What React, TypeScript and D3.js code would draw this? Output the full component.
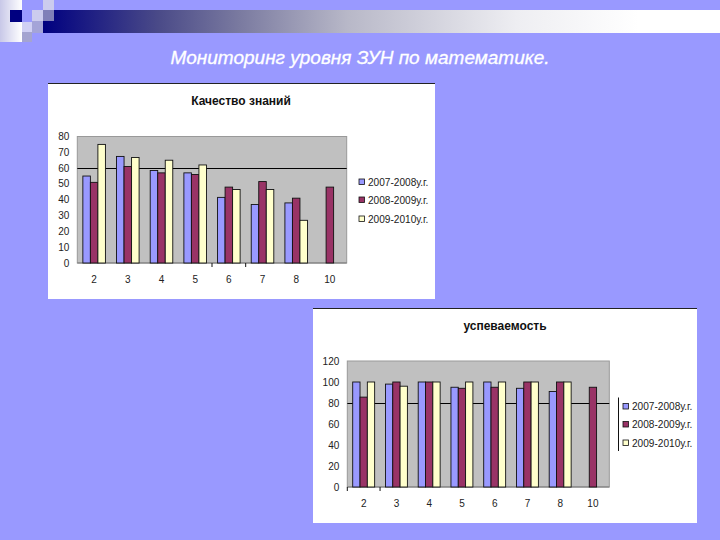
import React from "react";
import * as d3 from "d3";

const categories = ["2", "3", "4", "5", "6", "7", "8", "10"];
const seriesNames = ["2007-2008у.г.", "2008-2009у.г.", "2009-2010у.г."];
const seriesColors = ["#9999FF", "#993366", "#FFFFCC"];

const knowledge2007: (number | null)[] = [55, 67.4, 58.5, 57, 41.5, 37, 38, null];
const knowledge2008: (number | null)[] = [51, 61, 57, 56, 48, 51.5, 41, 48];
const knowledge2009: (number | null)[] = [75, 66.7, 65, 62, 46.5, 46.5, 27, null];

const progress2007: (number | null)[] = [100, 98, 100, 95, 100, 94, 91, null];
const progress2008: (number | null)[] = [85.6, 100, 100, 94, 95, 100, 100, 95];
const progress2009: (number | null)[] = [100, 96, 100, 100, 100, 100, 100, null];

const knowledgeTicks = [0, 10, 20, 30, 40, 50, 60, 70, 80];
const progressTicks = [0, 20, 40, 60, 80, 100, 120];

const FONT = "Liberation Sans, Arial, sans-serif";

type ChartProps = {
  title: string;
  panel: [number, number, number, number];
  plot: [number, number, number, number];
  yMax: number;
  ticks: number[];
  grid: number;
  series: (number | null)[][];
  titleX: number;
  titleY: number;
  legendX: number;
  legendYs: number[];
  tickFont: number;
  axisTicks: string[];
  legendRule?: boolean;
};

function BarChart(p: ChartProps) {
  const [px, py, pw, ph] = p.panel;
  const [x0, y0, x1, y1] = p.plot;
  const x = d3.scaleBand<string>().domain(categories).range([x0, x1]).paddingInner(0).paddingOuter(0);
  const inner = d3.scaleBand<number>().domain([0, 1, 2]).range([x.bandwidth() * 0.165, x.bandwidth() * 0.835]);
  const y = d3.scaleLinear().domain([0, p.yMax]).range([y1, y0]);
  const gridY = Math.floor(y(p.grid)) + 0.5;
  return (
    <g>
      <rect x={px} y={py} width={pw} height={ph} fill="#fff" />
      <line x1={px} x2={px + pw} y1={py + 0.5} y2={py + 0.5} stroke="#222" strokeWidth={1} />
      <text x={p.titleX} y={p.titleY} fontFamily={FONT} fontSize={12} fontWeight={700} textAnchor="middle" fill="#111">{p.title}</text>
      <rect x={x0} y={y0} width={x1 - x0} height={y1 - y0} fill="#C0C0C0" stroke="#999" strokeWidth={1} />
      <line x1={x0} x2={x1} y1={gridY} y2={gridY} stroke="#000" strokeWidth={1} />
      <line x1={x0} x2={x1} y1={y1} y2={y1} stroke="#777" strokeWidth={1} />
      {p.axisTicks.map((c) => (
        <line key={c} x1={x(c)!} x2={x(c)!} y1={y1} y2={y1 + 4} stroke="#111" strokeWidth={1} />
      ))}
      {p.ticks.map((t) => (
        <text key={t} x={x0 - 8} y={y(t) + 3.5} fontFamily={FONT} fontSize={p.tickFont} textAnchor="end" fill="#222">{t}</text>
      ))}
      {categories.map((c) => (
        <text key={c} x={x(c)! + x.bandwidth() / 2} y={y1 + 20} fontFamily={FONT} fontSize={p.tickFont} textAnchor="middle" fill="#222">{c}</text>
      ))}
      {p.series.map((vals, s) =>
        vals.map((v, i) =>
          v == null ? null : (
            <rect
              key={`${s}-${i}`}
              x={x(categories[i])! + inner(s)!}
              y={y(v)}
              width={inner.bandwidth()}
              height={y1 - y(v)}
              fill={seriesColors[s]}
              stroke="#111"
              strokeWidth={0.9}
            />
          )
        )
      )}
      {p.legendRule && <line x1={p.legendX - 4.5} x2={p.legendX - 4.5} y1={p.legendYs[0] - 9} y2={p.legendYs[2] + 8} stroke="#111" />}
      {seriesNames.map((n, s) => (
        <g key={n}>
          <rect x={p.legendX} y={p.legendYs[s] - 3} width={5.5} height={5.5} fill={seriesColors[s]} stroke="#111" strokeWidth={0.8} />
          <text x={p.legendX + 9} y={p.legendYs[s] + 3.5} fontFamily={FONT} fontSize={10.1} fill="#222">{n}</text>
        </g>
      ))}
    </g>
  );
}

export default function App() {
  return (
    <svg width={720} height={540} style={{ position: "fixed", left: 0, top: 0 }}>
      <defs>
        <linearGradient id="hdr" x1="0" x2="1" y1="0" y2="0">
          <stop offset="0" stopColor="#000080" />
          <stop offset="0.17" stopColor="#4A4A88" />
          <stop offset="0.29" stopColor="#7A7AA0" />
          <stop offset="0.45" stopColor="#B8B8C8" />
          <stop offset="0.7" stopColor="#EEEEF2" />
          <stop offset="0.88" stopColor="#FFFFFF" />
          <stop offset="1" stopColor="#FFFFFF" />
        </linearGradient>
        <linearGradient id="sq" x1="0" x2="1" y1="0" y2="0">
          <stop offset="0" stopColor="#C8C8E8" />
          <stop offset="1" stopColor="#FFFFFF" />
        </linearGradient>
      </defs>
      <rect width={720} height={540} fill="#9999FF" />
      <rect x={43} y={10} width={677} height={23} fill="url(#hdr)" />
      <rect x={0} y={0} width={22} height={42} fill="url(#sq)" />
      <rect x={10} y={10} width={12} height={12} fill="#000080" />
      <rect x={32} y={10} width={11} height={11} fill="#CCCCEE" />
      <rect x={43} y={0} width={11} height={10} fill="#CCCCEE" />
      <rect x={43} y={10} width={11} height={11} fill="#8080B8" />
      <rect x={22} y={22} width={10} height={10} fill="#D0D0F4" />
      <rect x={32} y={21} width={11} height={12} fill="#A4A4D8" />
      <rect x={22} y={32} width={10} height={10} fill="#A4A4D0" />
      <text x={360} y={63.5} fontFamily={FONT} fontSize={19} fontStyle="italic" textAnchor="middle" fill="#fff" stroke="#fff" strokeWidth={0.3}>Мониторинг уровня ЗУН по математике.</text>
      <BarChart
        title="Качество знаний"
        panel={[48, 83, 387, 216]}
        plot={[77.3, 136.5, 346.7, 263]}
        yMax={80}
        ticks={knowledgeTicks}
        grid={60}
        series={[knowledge2007, knowledge2008, knowledge2009]}
        titleX={241}
        titleY={105}
        legendX={359}
        legendYs={[182, 200, 219]}
        tickFont={10}
        axisTicks={["6", "7"]}
      />
      <BarChart
        title="успеваемость"
        panel={[313, 308, 384, 215]}
        plot={[347.3, 361, 609.3, 487]}
        yMax={120}
        ticks={progressTicks}
        grid={80}
        series={[progress2007, progress2008, progress2009]}
        titleX={505}
        titleY={330}
        legendX={623}
        legendYs={[406.5, 424.5, 443]}
        tickFont={10}
        axisTicks={["2", "3"]}
        legendRule
      />
    </svg>
  );
}
